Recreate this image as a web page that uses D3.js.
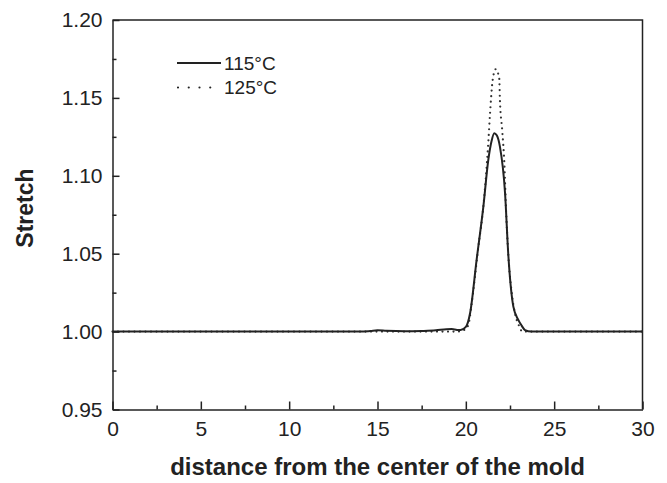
<!DOCTYPE html>
<html>
<head>
<meta charset="utf-8">
<script src="https://cdn.jsdelivr.net/npm/d3@7"></script>
<style>
  body { margin: 0; background: #fff; }
  text { font-family: "Liberation Sans", Arial, sans-serif; fill: #222; }
</style>
</head>
<body>
<svg id="chart"></svg>
<script>
// data
const x115 = [0, 5, 10, 12, 14, 14.6, 15.0, 15.5, 16.5, 17.5, 18.3, 18.9, 19.2, 19.5, 19.7, 20.0, 20.24, 20.61, 20.99, 21.27, 21.45, 21.61, 21.75, 21.93, 22.22, 22.40, 22.69, 22.97, 23.15, 23.35, 23.7, 25, 30];
const y115 = [1.0, 1.0, 1.0, 1.0, 1.0, 1.0004, 1.0008, 1.0005, 1.0002, 1.0004, 1.0008, 1.0015, 1.0016, 1.0011, 1.001, 1.003, 1.0118, 1.046, 1.080, 1.110, 1.122, 1.1273, 1.126, 1.1187, 1.0888, 1.050, 1.016, 1.0075, 1.004, 1.001, 1.0, 1.0, 1.0];

const x125 = [0, 10, 19.5, 19.9, 20.14, 20.33, 20.71, 20.99, 21.27, 21.37, 21.52, 21.69, 21.89, 21.93, 22.06, 22.18, 22.27, 22.40, 22.60, 22.78, 23.0, 23.2, 25, 30];
const y125 = [1.0, 1.0, 1.0, 1.001, 1.0042, 1.018, 1.0545, 1.080, 1.121, 1.140, 1.1615, 1.1684, 1.1626, 1.1487, 1.129, 1.108, 1.080, 1.050, 1.0246, 1.0117, 1.004, 1.0, 1.0, 1.0];

const xMajor = [0, 5, 10, 15, 20, 25, 30];
const xMinor = [2.5, 7.5, 12.5, 17.5, 22.5, 27.5];
const yMajor = [0.95, 1.00, 1.05, 1.10, 1.15, 1.20];
const yMinor = [0.975, 1.025, 1.075, 1.125, 1.175];

const seriesNames = ["115°C", "125°C"];

const W = 667, H = 483;
const margin = { top: 20, right: 24.5, bottom: 73.5, left: 112.5 },
      width = W - margin.left - margin.right,
      height = H - margin.top - margin.bottom;

const root = d3.select("#chart").attr("width", W).attr("height", H);
const svg = root.append("g")
  .attr("transform", `translate(${margin.left},${margin.top})`);

const x = d3.scaleLinear().domain([0, 30]).range([0, width]);
const y = d3.scaleLinear().domain([0.95, 1.20]).range([height, 0]);

// axes, ticks pointing inward
function styleAxis(g) {
  g.selectAll("path, line").attr("stroke", "#222").attr("stroke-width", 1.5);
  g.selectAll("text").style("font-size", "21px").attr("fill", "#222");
}

svg.append("g")
  .attr("transform", `translate(0,${height})`)
  .call(d3.axisBottom(x).tickValues(xMajor).tickSizeInner(-8).tickSizeOuter(0)
    .tickPadding(12).tickFormat(d3.format("d")))
  .call(styleAxis);

svg.append("g")
  .attr("transform", `translate(0,${height})`)
  .call(d3.axisBottom(x).tickValues(xMinor).tickSizeInner(-4).tickSizeOuter(0).tickFormat(""))
  .call(styleAxis)
  .select(".domain").remove();

svg.append("g")
  .call(d3.axisLeft(y).tickValues(yMajor).tickSizeInner(-7).tickSizeOuter(0)
    .tickPadding(10).tickFormat(d3.format(".2f")))
  .call(styleAxis);

svg.append("g")
  .call(d3.axisLeft(y).tickValues(yMinor).tickSizeInner(-4).tickSizeOuter(0).tickFormat(""))
  .call(styleAxis)
  .select(".domain").remove();

// top and right frame
svg.append("path")
  .attr("d", `M0,0H${width}V${height}`)
  .attr("fill", "none")
  .attr("stroke", "#222")
  .attr("stroke-width", 1.5);

const line = d3.line().x(d => x(d[0])).y(d => y(d[1])).curve(d3.curveMonotoneX);

svg.append("path")
  .datum(d3.zip(x125, y125))
  .attr("d", line)
  .attr("fill", "none")
  .attr("stroke", "#333")
  .attr("stroke-width", 2.2)
  .attr("stroke-linecap", "round")
  .attr("stroke-dasharray", "0,5.5");

svg.append("path")
  .datum(d3.zip(x115, y115))
  .attr("d", line)
  .attr("fill", "none")
  .attr("stroke", "#222")
  .attr("stroke-width", 2);

// legend
const legend = svg.append("g").attr("transform", "translate(64.5,43)");
seriesNames.forEach((name, i) => {
  const row = legend.append("g").attr("transform", `translate(0,${i * 24.5})`);
  row.append("line")
    .attr("x1", i === 0 ? 0 : 1).attr("x2", 44).attr("y1", 0).attr("y2", 0)
    .attr("stroke", "#222")
    .attr("stroke-width", i === 0 ? 2 : 2.2)
    .attr("stroke-linecap", i === 0 ? "butt" : "round")
    .attr("stroke-dasharray", i === 0 ? null : "0,10.75");
  row.append("text")
    .attr("x", 47).attr("y", 0).attr("dy", "0.36em")
    .style("font-size", "19px")
    .text(name);
});

// axis titles
root.append("text")
  .attr("x", margin.left + width / 2)
  .attr("y", 475)
  .attr("text-anchor", "middle")
  .style("font-size", "24px")
  .style("font-weight", "bold")
  .text("distance from the center of the mold");

root.append("text")
  .attr("transform", "translate(33,208) rotate(-90)")
  .attr("text-anchor", "middle")
  .style("font-size", "23px")
  .style("font-weight", "bold")
  .text("Stretch");
</script>
</body>
</html>
